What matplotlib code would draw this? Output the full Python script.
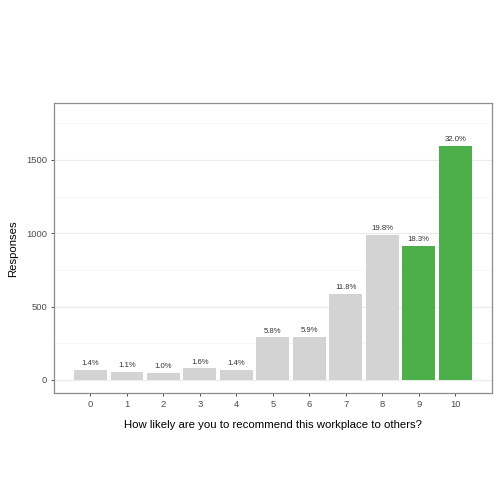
import matplotlib.pyplot as plt
from matplotlib.ticker import MultipleLocator

plt.rcParams["font.family"] = ["Liberation Sans", "DejaVu Sans"]

# recommend score 0-10, responses and share of total
scores = [0, 1, 2, 3, 4, 5, 6, 7, 8, 9, 10]
responses = [70, 55, 50, 80, 70, 290, 295, 589, 988, 913, 1597]
pct_labels = ["1.4%", "1.1%", "1.0%", "1.6%", "1.4%", "5.8%", "5.9%",
              "11.8%", "19.8%", "18.3%", "32.0%"]
promoter = [False] * 9 + [True, True]

fig = plt.figure(figsize=(5, 5), dpi=100)
ax = fig.add_axes([54 / 500, 1 - 393.3 / 500, (491.7 - 54) / 500, (393.3 - 103.3) / 500])

colors = ["#4DAF4A" if p else "#D3D3D3" for p in promoter]
bars = ax.bar(scores, responses, width=0.9, color=colors, zorder=2)

for b, lab in zip(bars, pct_labels):
    ax.text(b.get_x() + b.get_width() / 2, b.get_height() + 18, lab,
            ha="center", va="bottom", fontsize=5.6, color="#333333", zorder=3)

ax.set_xlim(-1.0, 11.0)
ax.set_ylim(-91, 1886)
ax.set_xticks(scores)
ax.yaxis.set_major_locator(MultipleLocator(500))
ax.yaxis.set_minor_locator(MultipleLocator(250))

ax.grid(axis="y", which="major", color="#EBEBEB", linewidth=0.8, zorder=0)
ax.grid(axis="y", which="minor", color="#F4F4F4", linewidth=0.5, zorder=0)
ax.tick_params(axis="both", which="major", labelsize=6.8, labelcolor="#4D4D4D",
               color="#333333", length=2.5, width=0.6, pad=2.5)
ax.tick_params(axis="y", which="minor", length=0)

for s in ax.spines.values():
    s.set_color("#8C8C8C")
    s.set_linewidth(0.9)

ax.set_xlabel("How likely are you to recommend this workplace to others?",
              fontsize=8.2, color="black", labelpad=8)
ax.set_ylabel("Responses", fontsize=8.2, color="black", labelpad=6)

plt.savefig("out.png", dpi=100)
